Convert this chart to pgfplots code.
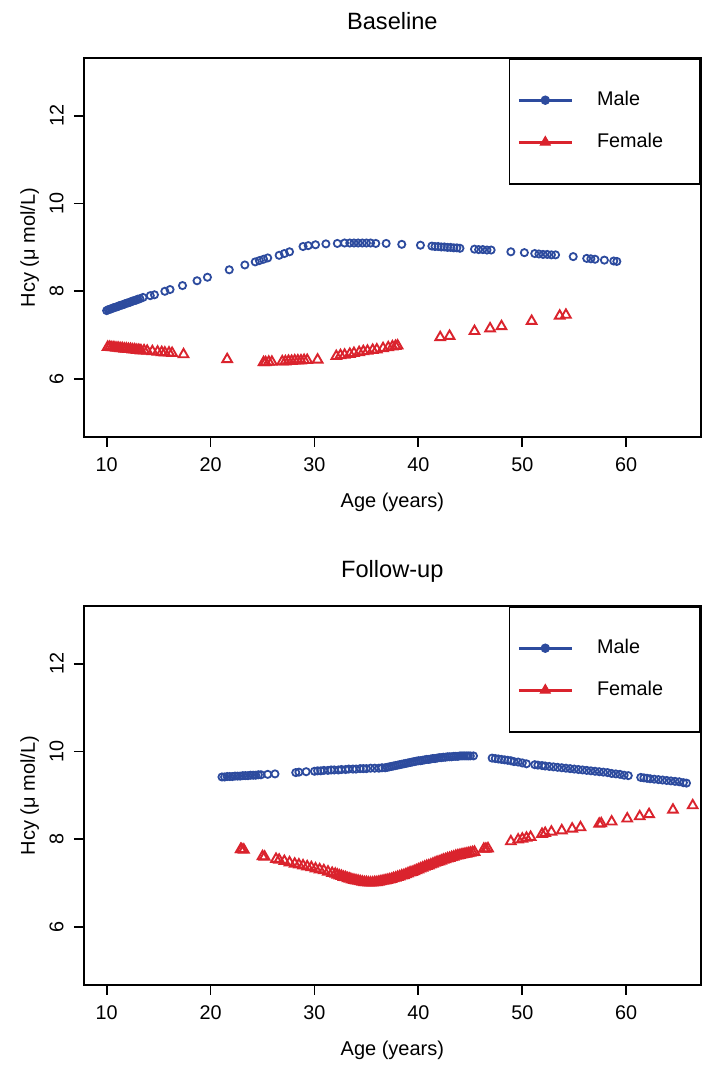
\documentclass[border=0pt]{standalone}
\usepackage{fontspec}
\setmainfont{Liberation Sans}
\usepackage{pgfplots}
\pgfplotsset{compat=1.18}
\definecolor{mblue}{RGB}{45,75,158}
\definecolor{mred}{RGB}{218,35,45}
\newcommand\lab{\fontsize{9.9}{11.9}\selectfont}
\newcommand\ttl{\fontsize{11.8}{14}\selectfont}
\pgfplotsset{
  hcy/.style={
    scale only axis, width=308.35pt, height=189.6pt,
    xmin=7.82, xmax=67.17, ymin=4.68, ymax=13.32,
    xtick={10,20,30,40,50,60}, ytick={6,8,10,12},
    axis line style={line width=0.9pt},
    every tick/.style={line width=0.9pt, black},
    tick align=outside, xtick pos=bottom, ytick pos=left,
    major tick length=5pt,
    /pgf/number format/assume math mode=true,
    tick label style={font=\lab},
    xticklabel style={anchor=north, inner sep=0pt, yshift=-5pt},
    yticklabel style={xshift=-5pt, rotate=90, anchor=south, inner sep=0pt},
    xlabel={Age (years)}, ylabel={Hcy (μ mol/L)},
    label style={font=\lab},
    every axis x label/.style={at={(axis description cs:0.5,-0.1847)}, anchor=base, inner sep=0pt},
    every axis y label/.style={at={(axis description cs:-0.0795,0.5)}, rotate=90, anchor=base, inner sep=0pt},
    every axis title/.style={at={(axis description cs:0.5,1.0757)}, anchor=base, inner sep=0pt, font=\ttl},
    legend image code/.code={\draw[mark repeat=2,mark phase=2,#1] plot coordinates {(0pt,0pt) (13.25pt,0pt) (26.5pt,0pt)};},
    legend style={at={(rel axis cs:1,1)}, anchor=north east, draw=black, line width=0.9pt, fill=white,
      inner xsep=3.85pt, inner ysep=10.25pt, row sep=0pt, column sep=11.8pt,
      nodes={inner sep=0pt, minimum height=21pt, font=\lab}},
    legend cell align=left,
    mcirc/.style={only marks, mark=o, mark size=1.8pt, mblue, mark options={line width=0.9pt}},
    mtri/.style={only marks, mark=triangle, mark size=2.8pt, mred, mark options={line width=0.95pt}},
  }
}
\begin{document}
\begin{tikzpicture}
\path[use as bounding box] (0,0) rectangle (358.5pt,533pt);
% ---------------- Baseline ----------------
\begin{axis}[hcy, at={(42pt,314.5pt)}, anchor=south west, title={Baseline}]
\addlegendimage{mblue, line width=1.7pt, mark=*, mark size=2.1pt, mark options={solid, fill=mblue, line width=0.5pt}}
\addlegendimage{mred, line width=1.7pt, mark=triangle*, mark size=2.9pt, mark options={solid, fill=mred, line width=0.5pt}}
\legend{{\makebox[47.5pt][l]{Male}},{\makebox[47.5pt][l]{Female}}}
\addplot[mcirc, forget plot] table {
10.0 7.56
10.15 7.58
10.3 7.59
10.45 7.60
10.6 7.62
10.75 7.63
10.9 7.64
11.05 7.65
11.2 7.67
11.35 7.68
11.5 7.69
11.65 7.70
11.8 7.72
11.95 7.73
12.1 7.74
12.25 7.75
12.4 7.77
12.55 7.78
12.7 7.79
12.85 7.80
13.0 7.82
13.2 7.83
13.5 7.86
14.2 7.90
14.6 7.92
15.6 8.00
16.1 8.04
17.3 8.13
18.7 8.24
19.7 8.32
21.8 8.49
23.3 8.60
24.3 8.67
24.7 8.70
25.1 8.73
25.5 8.76
26.6 8.82
27.1 8.86
27.6 8.90
28.9 9.02
29.4 9.04
30.1 9.06
31.1 9.08
32.2 9.09
32.9 9.10
33.4 9.10
33.8 9.10
34.2 9.10
34.6 9.10
35.0 9.10
35.4 9.10
35.9 9.09
36.9 9.09
38.4 9.07
40.2 9.05
41.3 9.03
41.6 9.02
41.9 9.02
42.2 9.01
42.5 9.01
42.8 9.00
43.1 9.00
43.4 8.99
43.7 8.99
44.0 8.98
45.4 8.96
45.8 8.95
46.2 8.95
46.6 8.94
47.0 8.94
48.9 8.90
50.2 8.88
51.2 8.86
51.6 8.85
52.0 8.84
52.4 8.84
52.8 8.83
53.2 8.83
54.9 8.79
56.2 8.75
56.6 8.74
57.0 8.73
57.9 8.71
58.8 8.69
59.1 8.68
};
\addplot[mtri, forget plot] table {
10.1 6.73
10.3 6.73
10.5 6.72
10.7 6.72
10.9 6.71
11.1 6.71
11.3 6.70
11.5 6.70
11.7 6.69
11.9 6.69
12.1 6.68
12.3 6.68
12.5 6.67
12.7 6.67
12.9 6.66
13.1 6.66
13.3 6.65
13.6 6.65
13.9 6.64
14.4 6.63
14.9 6.62
15.3 6.61
15.6 6.60
16.0 6.60
16.3 6.59
17.4 6.56
21.6 6.45
25.1 6.38
25.3 6.38
25.6 6.39
25.9 6.39
26.9 6.40
27.2 6.40
27.5 6.41
27.8 6.41
28.1 6.42
28.4 6.42
28.7 6.42
29.0 6.43
29.3 6.43
30.3 6.44
32.1 6.52
32.5 6.54
32.9 6.55
33.4 6.57
33.8 6.59
34.3 6.61
34.7 6.63
35.1 6.64
35.6 6.66
36.0 6.67
36.6 6.70
37.1 6.72
37.5 6.74
37.8 6.75
38.0 6.76
42.1 6.95
43.0 6.98
45.4 7.09
46.9 7.15
48.0 7.20
50.9 7.32
53.6 7.44
54.2 7.46
};
\end{axis}
% ---------------- Follow-up ----------------
\begin{axis}[hcy, at={(42pt,40.5pt)}, anchor=south west, title={Follow-up}]
\addlegendimage{mblue, line width=1.7pt, mark=*, mark size=2.1pt, mark options={solid, fill=mblue, line width=0.5pt}}
\addlegendimage{mred, line width=1.7pt, mark=triangle*, mark size=2.9pt, mark options={solid, fill=mred, line width=0.5pt}}
\legend{{\makebox[47.5pt][l]{Male}},{\makebox[47.5pt][l]{Female}}}
\addplot[mcirc, forget plot] table {
21.1 9.42
21.35 9.42
21.6 9.43
21.85 9.43
22.1 9.43
22.35 9.44
22.6 9.44
22.85 9.44
23.1 9.45
23.35 9.45
23.6 9.45
23.85 9.46
24.1 9.46
24.35 9.46
24.6 9.47
24.85 9.47
25.5 9.48
26.2 9.49
28.2 9.52
28.5 9.53
29.2 9.54
30.0 9.55
30.3 9.56
30.6 9.56
30.9 9.57
31.3 9.57
31.6 9.58
31.9 9.58
32.3 9.58
32.6 9.59
33.0 9.59
33.3 9.60
33.7 9.60
34.0 9.60
34.4 9.61
34.7 9.61
35.0 9.61
35.4 9.62
35.8 9.62
36.2 9.62
36.5 9.63
36.8 9.63
37.0 9.64
37.2 9.65
37.4 9.66
37.6 9.67
37.8 9.68
38.0 9.69
38.2 9.70
38.4 9.71
38.6 9.72
38.8 9.73
39.0 9.74
39.2 9.75
39.4 9.76
39.6 9.77
39.8 9.78
40.0 9.79
40.2 9.79
40.4 9.80
40.6 9.81
40.8 9.82
41.0 9.82
41.2 9.83
41.4 9.84
41.6 9.84
41.8 9.85
42.0 9.86
42.2 9.86
42.4 9.87
42.6 9.87
42.8 9.88
43.0 9.88
43.2 9.88
43.4 9.89
43.6 9.89
43.8 9.89
44.0 9.90
44.2 9.90
44.4 9.90
44.6 9.90
44.8 9.90
45.0 9.90
45.3 9.90
47.1 9.85
47.4 9.84
47.7 9.83
48.0 9.82
48.3 9.81
48.6 9.80
48.9 9.79
49.2 9.77
49.6 9.76
50.0 9.74
50.4 9.72
51.2 9.70
51.5 9.69
51.9 9.68
52.2 9.67
52.6 9.66
53.0 9.65
53.4 9.64
53.8 9.63
54.2 9.62
54.6 9.61
55.0 9.60
55.4 9.59
55.8 9.58
56.2 9.57
56.6 9.56
57.0 9.55
57.4 9.54
57.8 9.53
58.2 9.52
58.6 9.50
59.0 9.49
59.4 9.48
59.8 9.46
60.2 9.45
61.4 9.41
61.7 9.40
62.0 9.39
62.3 9.38
62.7 9.37
63.1 9.36
63.5 9.35
63.9 9.34
64.3 9.33
64.7 9.32
65.1 9.31
65.5 9.29
65.8 9.28
};
\addplot[mtri, forget plot] table {
22.9 7.77
23.0 7.77
23.2 7.76
25.0 7.61
25.2 7.60
26.3 7.55
26.6 7.53
27.1 7.50
27.6 7.47
28.1 7.44
28.5 7.42
28.9 7.40
29.3 7.38
29.7 7.36
30.1 7.33
30.5 7.31
30.9 7.29
31.3 7.26
31.7 7.23
32.0 7.21
32.2 7.19
32.4 7.17
32.6 7.16
32.8 7.14
33.0 7.13
33.2 7.11
33.4 7.10
33.6 7.08
33.8 7.07
34.0 7.06
34.2 7.05
34.4 7.04
34.6 7.03
34.8 7.02
35.0 7.02
35.2 7.01
35.4 7.01
35.6 7.01
35.8 7.02
36.0 7.02
36.2 7.03
36.4 7.04
36.6 7.05
36.8 7.06
37.0 7.07
37.2 7.08
37.4 7.09
37.6 7.11
37.8 7.12
38.0 7.14
38.2 7.15
38.4 7.17
38.6 7.18
38.8 7.20
39.0 7.22
39.2 7.24
39.4 7.25
39.6 7.27
39.8 7.29
40.0 7.31
40.2 7.33
40.4 7.35
40.6 7.37
40.8 7.39
41.0 7.40
41.2 7.42
41.4 7.44
41.6 7.46
41.8 7.48
42.0 7.49
42.2 7.51
42.4 7.53
42.6 7.54
42.8 7.56
43.0 7.57
43.2 7.59
43.4 7.60
43.6 7.62
43.8 7.63
44.0 7.64
44.2 7.65
44.4 7.66
44.6 7.67
44.8 7.68
45.0 7.69
45.2 7.70
45.4 7.71
46.3 7.78
46.5 7.78
46.7 7.79
48.9 7.95
49.6 7.99
50.0 8.01
50.4 8.03
50.8 8.05
51.9 8.12
52.2 8.14
52.8 8.17
53.8 8.20
54.8 8.24
55.6 8.27
57.4 8.35
57.6 8.36
58.6 8.40
60.1 8.47
61.3 8.52
62.2 8.57
64.5 8.67
66.4 8.77
};
\end{axis}
\end{tikzpicture}
\end{document}
